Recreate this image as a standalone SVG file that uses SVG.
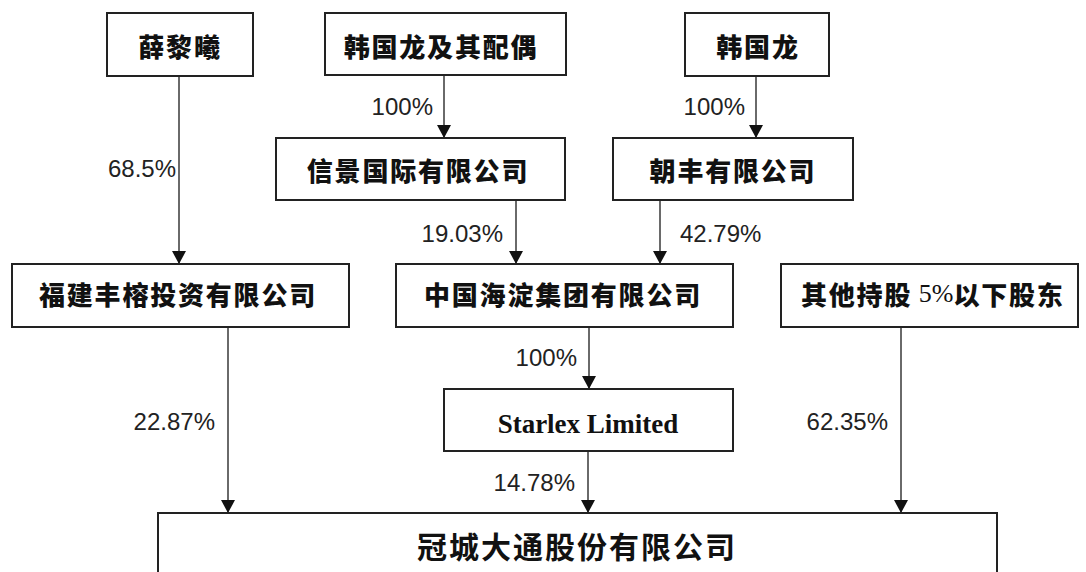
<svg xmlns="http://www.w3.org/2000/svg" width="1086" height="572" viewBox="0 0 1086 572">
<style>
.box{fill:#fff;stroke:#222;stroke-width:2}
.t{font-family:"Noto Sans CJK SC","Noto Sans CJK TC",sans-serif;font-weight:900;font-size:26px;letter-spacing:1.8px;fill:#111;text-anchor:middle;dominant-baseline:central}
.lbl{font-family:"Liberation Sans",Arial,sans-serif;font-size:24px;fill:#222;text-anchor:end}
.ln{stroke:#6a6a6a;stroke-width:2;fill:none;marker-end:url(#ah)}
</style>
<defs>
<marker id="ah" viewBox="0 0 13 14" refX="13" refY="7" markerWidth="13" markerHeight="14" markerUnits="userSpaceOnUse" orient="auto">
<path d="M0,0 L13,7 L0,14 z" fill="#111"/>
</marker>
</defs>
<rect width="1086" height="572" fill="#fff"/>
<g id="connectors">
<line class="ln" x1="179" y1="77" x2="179" y2="264"/>
<line class="ln" x1="444" y1="76" x2="444" y2="138"/>
<line class="ln" x1="756" y1="77" x2="756" y2="138"/>
<line class="ln" x1="516" y1="201" x2="516" y2="264"/>
<line class="ln" x1="660" y1="201" x2="660" y2="264"/>
<line class="ln" x1="589" y1="328" x2="589" y2="389"/>
<line class="ln" x1="228" y1="328" x2="228" y2="513"/>
<line class="ln" x1="588" y1="452" x2="588" y2="513"/>
<line class="ln" x1="901" y1="328" x2="901" y2="513"/>
<text class="lbl" x="176" y="177">68.5%</text>
<text class="lbl" x="433" y="115">100%</text>
<text class="lbl" x="745" y="115">100%</text>
<text class="lbl" x="503" y="242">19.03%</text>
<text class="lbl" x="680" y="242" style="text-anchor:start">42.79%</text>
<text class="lbl" x="577" y="366">100%</text>
<text class="lbl" x="215" y="430">22.87%</text>
<text class="lbl" x="575" y="491">14.78%</text>
<text class="lbl" x="888" y="430">62.35%</text>
</g>
<g id="n1"><rect class="box" x="107" y="13" width="146" height="63"/><text class="t" x="180" y="45">薛黎曦</text></g>
<g id="n2"><rect class="box" x="325" y="13" width="241" height="62"/><text class="t" x="441" y="45">韩国龙及其配偶</text></g>
<g id="n3"><rect class="box" x="685" y="13" width="144" height="63"/><text class="t" x="758" y="45">韩国龙</text></g>
<g id="n4"><rect class="box" x="276" y="138" width="289" height="62"/><text class="t" x="418" y="169">信景国际有限公司</text></g>
<g id="n5"><rect class="box" x="613" y="138" width="240" height="62"/><text class="t" x="733" y="169">朝丰有限公司</text></g>
<g id="n6"><rect class="box" x="12" y="264" width="337" height="63"/><text class="t" x="178" y="293">福建丰榕投资有限公司</text></g>
<g id="n7"><rect class="box" x="396" y="264" width="337" height="63"/><text class="t" x="563" y="293">中国海淀集团有限公司</text></g>
<g id="n8"><rect class="box" x="781" y="264" width="297" height="63"/><text class="t" x="801" y="293" style="text-anchor:start">其他持股<tspan font-family="Liberation Serif" font-weight="normal" letter-spacing="0"> 5%</tspan>以下股东</text></g>
<g id="n9"><rect class="box" x="444" y="389" width="289" height="62"/><text x="588" y="433" font-family="Liberation Serif" font-weight="bold" font-size="27" fill="#111" text-anchor="middle">Starlex Limited</text></g>
<g id="n10"><rect class="box" x="158" y="513" width="839" height="80"/><text class="t" x="577" y="545" style="font-size:30px;letter-spacing:2px;font-weight:bold">冠城大通股份有限公司</text></g>
</svg>
